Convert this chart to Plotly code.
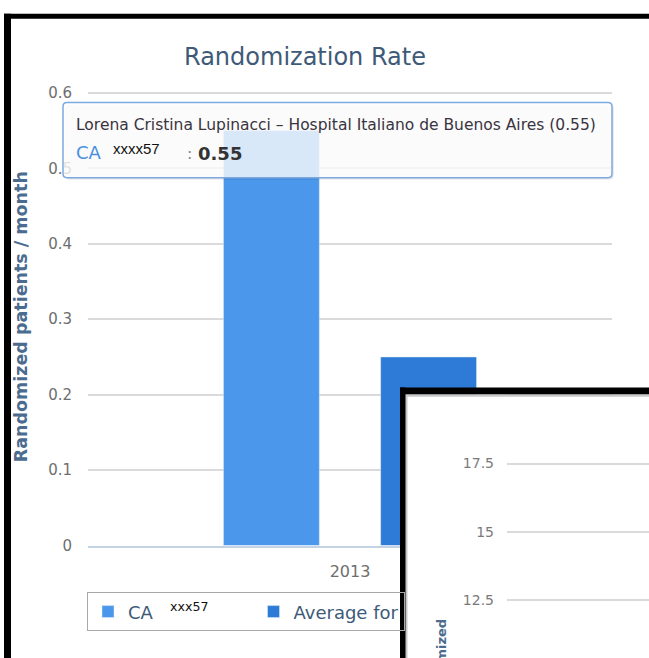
import plotly.graph_objects as go

# ---------------- data ----------------
categories = ["2013"]
site_values = [0.55]
average_values = [0.25]
site_label = "CA"
site_code = "xxx57"
average_name = "Average for"
y_ticks = [0, 0.1, 0.2, 0.3, 0.4, 0.5, 0.6]
y_range = [0, 0.6026]
inset_ticks = [12.5, 15, 17.5]
inset_range = [10.69, 19.9]
tooltip_title = "Lorena Cristina Lupinacci – Hospital Italiano de Buenos Aires (0.55)"
tooltip_series = "CA"
tooltip_code = "xxxx57"
tooltip_value = "0.55"

W, H = 649, 658


def px(x):
    return x / W


def py(y):
    return 1 - y / H


def rounded_rect(x0, y0, x1, y1, r):
    rx, ry = r / W, r / H
    X0, X1 = px(x0), px(x1)
    Y0, Y1 = py(y0), py(y1)  # Y0 top (larger), Y1 bottom
    return (f"M{X0+rx},{Y0} L{X1-rx},{Y0} Q{X1},{Y0} {X1},{Y0-ry} "
            f"L{X1},{Y1+ry} Q{X1},{Y1} {X1-rx},{Y1} "
            f"L{X0+rx},{Y1} Q{X0},{Y1} {X0},{Y1+ry} "
            f"L{X0},{Y0-ry} Q{X0},{Y0} {X0+rx},{Y0} Z")


pad = "\u00a0" * 7
fig = go.Figure()
fig.add_trace(go.Bar(
    x=categories, y=site_values,
    name=f"{site_label}   <span style='color:#111'><sup>{site_code}</sup></span>{pad}",
    marker_color="#4a97ec", xaxis="x", yaxis="y"))
fig.add_trace(go.Bar(
    x=categories, y=average_values, name=average_name,
    marker_color="#2d7bd6", xaxis="x", yaxis="y"))
# second (overlapping) screenshot: a blank cover panel and the inset chart
fig.add_trace(go.Scatter(x=[], y=[], xaxis="x2", yaxis="y2", showlegend=False))
fig.add_trace(go.Scatter(x=[], y=[], xaxis="x3", yaxis="y3", showlegend=False))

shapes = []
# tooltip shadow + body
shapes.append(dict(type="path", xref="paper", yref="paper", layer="above",
                   path=rounded_rect(65, 100, 614, 177, 4),
                   fillcolor="rgba(0,0,0,0.08)", line=dict(width=0)))
shapes.append(dict(type="path", xref="paper", yref="paper", layer="above",
                   path=rounded_rect(63, 98, 612, 175, 4),
                   fillcolor="rgba(255,255,255,0.8)",
                   line=dict(color="#7ea9de", width=1.5)))
# outer black frame of main screenshot
shapes.append(dict(type="rect", xref="paper", yref="paper", layer="above",
                   x0=px(4), x1=px(660), y0=py(12), y1=py(7),
                   fillcolor="black", line=dict(width=0)))
shapes.append(dict(type="rect", xref="paper", yref="paper", layer="above",
                   x0=px(4), x1=px(11), y0=py(670), y1=py(7),
                   fillcolor="black", line=dict(width=0)))
# frame of overlapping screenshot
shapes.append(dict(type="rect", xref="paper", yref="paper", layer="above",
                   x0=px(405), x1=px(660), y0=py(399.5), y1=py(397),
                   fillcolor="#c8c8c8", line=dict(width=0)))
shapes.append(dict(type="rect", xref="paper", yref="paper", layer="above",
                   x0=px(405), x1=px(407.5), y0=py(670), y1=py(397),
                   fillcolor="#c8c8c8", line=dict(width=0)))
shapes.append(dict(type="rect", xref="paper", yref="paper", layer="above",
                   x0=px(400), x1=px(660), y0=py(397), y1=py(390),
                   fillcolor="black", line=dict(width=0)))
shapes.append(dict(type="rect", xref="paper", yref="paper", layer="above",
                   x0=px(400), x1=px(405.5), y0=py(670), y1=py(390),
                   fillcolor="black", line=dict(width=0)))

annotations = [
    dict(text="Randomized patients / month", textangle=-90,
         x=px(21), y=py(318), xref="paper", yref="paper", showarrow=False,
         xanchor="center", yanchor="middle",
         font=dict(size=17.5, color="#4b6c8f", family="DejaVu Sans", weight="bold")),
    dict(text=tooltip_title, x=px(74), y=py(121), xref="paper", yref="paper",
         showarrow=False, xanchor="left", yanchor="middle",
         font=dict(size=15.5, color="#3a3340", family="DejaVu Sans")),
    dict(text=tooltip_series, x=px(74), y=py(149), xref="paper", yref="paper",
         showarrow=False, xanchor="left", yanchor="middle",
         font=dict(size=18, color="#4a8fe0", family="DejaVu Sans")),
    dict(text=tooltip_code, x=px(111), y=py(145), xref="paper", yref="paper",
         showarrow=False, xanchor="left", yanchor="middle",
         font=dict(size=15, color="#111111", family="Liberation Sans")),
    dict(text=":", x=px(185), y=py(150), xref="paper", yref="paper",
         showarrow=False, xanchor="left", yanchor="middle",
         font=dict(size=16, color="#888888", family="DejaVu Sans")),
    dict(text=f"<b>{tooltip_value}</b>", x=px(196), y=py(150), xref="paper", yref="paper",
         showarrow=False, xanchor="left", yanchor="middle",
         font=dict(size=18, color="#333333", family="DejaVu Sans")),
    dict(text="Randomized", textangle=-90, x=px(442), y=py(625),
         xref="paper", yref="paper", showarrow=False,
         xanchor="center", yanchor="top",
         font=dict(size=13, color="#4b6c8f", family="DejaVu Sans", weight="bold")),
]

fig.update_layout(
    width=W, height=H,
    margin=dict(l=0, r=0, t=0, b=0),
    paper_bgcolor="white", plot_bgcolor="white",
    barmode="group", bargap=0.40, bargroupgap=0.39,
    hovermode=False,
    font=dict(family="DejaVu Sans"),
    title=dict(text="Randomization Rate", x=px(305), y=py(57),
               xref="container", yref="container",
               xanchor="center", yanchor="middle",
               font=dict(size=24, color="#3e5a78", family="DejaVu Sans")),
    showlegend=True,
    legend=dict(orientation="h", x=px(87), y=py(600), xanchor="left", yanchor="top",
                bordercolor="#a8a8a8", borderwidth=1, bgcolor="rgba(0,0,0,0)",
                font=dict(size=18, color="#3e5a78", family="DejaVu Sans")),
    xaxis=dict(domain=[px(88), px(612)], anchor="y", showline=True,
               linecolor="#c4d3e4", linewidth=2, showgrid=False, ticks="",
               tickfont=dict(size=16, color="#6e6e6e"), ticklabelstandoff=10,
               fixedrange=True),
    yaxis=dict(domain=[py(552), py(86)], anchor="x", range=y_range,
               tickvals=y_ticks, showgrid=True, gridcolor="#dadada", gridwidth=2,
               zeroline=False, ticks="", tickfont=dict(size=15, color="#6e6e6e"),
               ticklabelstandoff=15, fixedrange=True),
    xaxis2=dict(domain=[px(406), px(507)], anchor="y2", visible=False),
    yaxis2=dict(domain=[0, py(397)], anchor="x2", visible=False),
    xaxis3=dict(domain=[px(507), 1], anchor="y3", visible=False),
    yaxis3=dict(domain=[0, py(401)], anchor="x3", range=inset_range,
                tickvals=inset_ticks, showgrid=True, gridcolor="#dadada", gridwidth=2,
                zeroline=False, showline=False, ticks="",
                tickfont=dict(size=14, color="#7a7a7a"), ticklabelstandoff=12),
    shapes=shapes,
    annotations=annotations,
)

fig.write_html("out.html",
               config={"displayModeBar": False, "staticPlot": True},
               post_script="document.body.style.margin='0';document.body.style.overflow='hidden';")
